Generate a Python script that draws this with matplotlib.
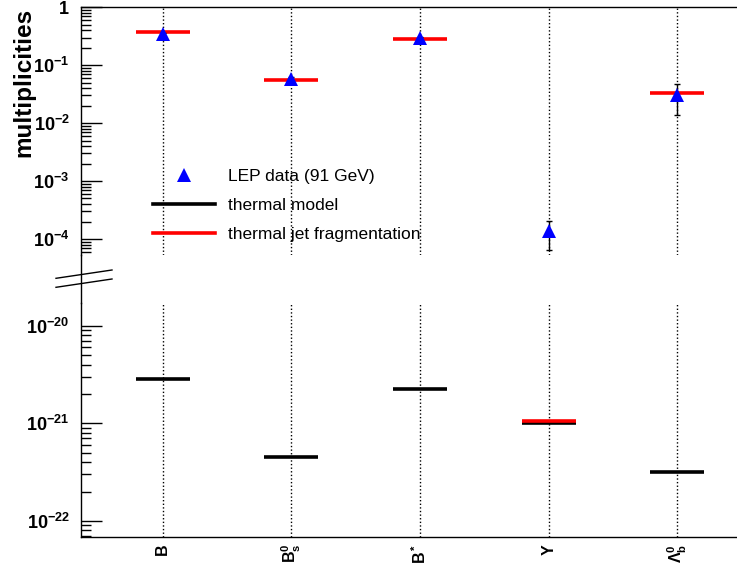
import matplotlib
matplotlib.use('Agg')
import matplotlib.pyplot as plt
import numpy as np
from matplotlib.lines import Line2D
from matplotlib.ticker import LogLocator, FuncFormatter, NullFormatter, FixedLocator

plt.rcParams['font.family'] = ['Liberation Sans', 'DejaVu Sans']
plt.rcParams['mathtext.fontset'] = 'custom'
plt.rcParams['mathtext.rm'] = 'Liberation Sans:bold'
plt.rcParams['mathtext.it'] = 'Liberation Sans:bold'
plt.rcParams['mathtext.bf'] = 'Liberation Sans:bold'
plt.rcParams['mathtext.sf'] = 'Liberation Sans:bold'

# ---- data ----
categories = [r'$\mathrm{B}$', r'$\mathrm{B^0_s}$', r'$\mathrm{B^*}$', r'$\Upsilon$', r'$\Lambda^0_b$']
lep_data = [0.34, 0.057, 0.29, 1.35e-4, 0.031]
lep_err = [0.02, 0.006, 0.02, 0.7e-4, 0.017]
thermal_model = [2.83e-21, 4.55e-22, 2.25e-21, 1.0e-21, 3.2e-22]
thermal_jet = [0.37, 0.055, 0.285, 1.05e-21, 0.0325]
top_decades = [0, -1, -2, -3, -4]
bottom_decades = [-20, -21, -22]

W, H = 737, 565
fig = plt.figure(figsize=(W / 100, H / 100), dpi=100)

left_px = 80.7
ax1 = fig.add_axes([left_px / W, 1 - 255 / H, 1 - left_px / W, (255 - 7.3) / H])
ax2 = fig.add_axes([left_px / W, 1 - 536.7 / H, 1 - left_px / W, (536.7 - 303) / H])

x = np.arange(len(categories))
halfw = 0.21

def fmt(v, pos):
    e = int(round(np.log10(v)))
    if e == 0:
        return r'$\mathrm{1}$'
    return r'$\mathrm{10^{%d}}$' % e

for ax, (ylo, yhi), decs in [(ax1, (10 ** -4.277, 1.0), top_decades),
                              (ax2, (10 ** -22.161, 10 ** -19.768), bottom_decades)]:
    ax.set_yscale('log')
    ax.set_xlim(-0.637, 4.464)
    ax.set_ylim(ylo, yhi)
    for xi in x:
        ax.axvline(xi, color='black', ls=(0, (1, 1.6)), lw=1.0, zorder=1)
    ax.hlines(thermal_model, x - halfw, x + halfw, color='black', lw=2.6, zorder=3)
    ax.hlines(thermal_jet, x - halfw, x + halfw, color='#ff0000', lw=2.6, zorder=4)
    ax.errorbar(x, lep_data, yerr=lep_err, fmt='none', ecolor='black', elinewidth=1.0,
                capsize=2, zorder=5)
    ax.plot(x, lep_data, ls='none', marker='^', color='#0000ff', markersize=10,
            markeredgewidth=0, zorder=6)
    ax.yaxis.set_major_locator(FixedLocator([10.0 ** d for d in decs]))
    ax.yaxis.set_minor_locator(LogLocator(base=10, subs=np.arange(2, 10), numticks=40))
    ax.yaxis.set_major_formatter(FuncFormatter(fmt))
    ax.yaxis.set_minor_formatter(NullFormatter())
    ax.tick_params(axis='y', which='major', direction='in', length=15, width=1.0,
                   labelsize=13, pad=8, right=False)
    ax.tick_params(axis='y', which='minor', direction='in', length=7, width=1.0, right=False)
    ax.spines['right'].set_visible(False)
    for s in ax.spines.values():
        s.set_linewidth(1.0)

ax1.spines['bottom'].set_visible(False)
ax1.set_xticks([])
ax2.spines['top'].set_visible(False)
ax2.set_xticks(x)
ax2.set_xticklabels(categories, rotation=90, fontsize=11.5)
ax2.tick_params(axis='x', length=0, pad=5)

# continuous left axis through the break, plus break marks
fig.add_artist(Line2D([left_px / W, left_px / W], [1 - 255 / H, 1 - 303 / H],
                      transform=fig.transFigure, color='black', lw=1.0))
for (xa, ya, xb, yb) in [(56, 278.3, 112, 270), (56, 287.3, 112, 279)]:
    fig.add_artist(Line2D([xa / W, xb / W], [1 - ya / H, 1 - yb / H],
                          transform=fig.transFigure, color='black', lw=1.0))

fig.text(24 / W, 1 - 82.5 / H, 'multiplicities', rotation=90, fontsize=17.5,
         fontweight='bold', ha='center', va='center')

handles = [Line2D([], [], ls='none', marker='^', color='#0000ff', markersize=10, markeredgewidth=0),
           Line2D([], [], color='black', lw=2.6),
           Line2D([], [], color='#ff0000', lw=2.6)]
labels = ['LEP data (91 GeV)', 'thermal model', 'thermal jet fragmentation']
leg = ax1.legend(handles, labels, loc='upper left', bbox_to_anchor=(152.7 / W, 1 - 169 / H),
                 bbox_transform=fig.transFigure, frameon=False, fontsize=12.5,
                 handlelength=3.6, handletextpad=0.75, labelspacing=0.79,
                 borderpad=0, borderaxespad=0)

fig.savefig('out.png', dpi=100)
